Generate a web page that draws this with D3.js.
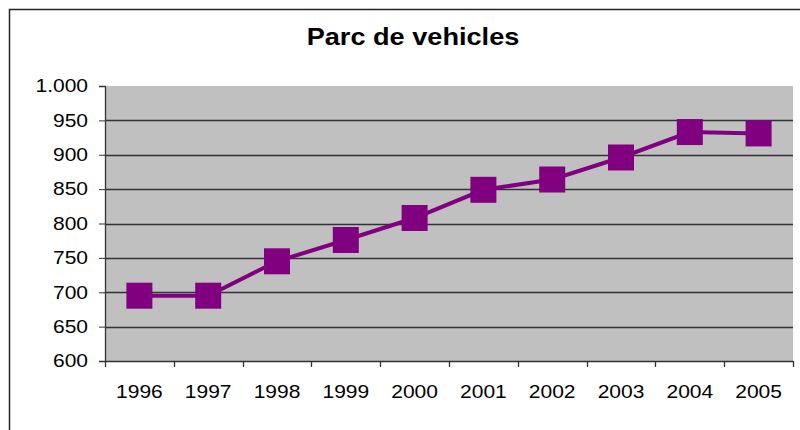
<!DOCTYPE html>
<html><head><meta charset="utf-8">
<script src="https://cdn.jsdelivr.net/npm/d3@7/dist/d3.min.js"></script>
<style>body{margin:0;background:#fff}svg{display:block}</style>
</head><body>
<script>
const years = ["1996","1997","1998","1999","2000","2001","2002","2003","2004","2005"];
const vehicles = [695, 695, 745, 776, 808, 849, 864, 896, 933, 931];
const yTicks = [600, 650, 700, 750, 800, 850, 900, 950, 1000];
const title = "Parc de vehicles";

const W = 800, H = 430;
const svg = d3.select("body").append("svg").attr("width", W).attr("height", H);
const font = "'Liberation Sans', Arial, sans-serif";
const SX = 1.2;

// chart border
svg.append("rect").attr("x", 9.5).attr("y", 9.5).attr("width", 820).attr("height", 440)
  .attr("fill", "#fff").attr("stroke", "#222").attr("stroke-width", 1.5);

const L = 105, R = 793, T = 86, B = 361;
const x = d3.scaleBand().domain(years).range([L, R]);
const y = d3.scaleLinear().domain([600, 1000]).range([B, T]);

svg.append("rect").attr("x", L).attr("y", T).attr("width", R - L).attr("height", B - T).attr("fill", "#c0c0c0");

// gridlines
svg.append("g").selectAll("line").data(yTicks.filter(d => d > 600 && d < 1000)).join("line")
  .attr("x1", L).attr("x2", R).attr("y1", d => Math.round(y(d)) + 0.5).attr("y2", d => Math.round(y(d)) + 0.5)
  .attr("stroke", "#333").attr("stroke-width", 1.3);

// y axis
const fmt = d => d3.format(",")(d).replace(/,/g, ".");
const ya = svg.append("g").attr("transform", `translate(${L},0)`)
  .call(d3.axisLeft(y).tickValues(yTicks).tickFormat(fmt).tickSize(6).tickPadding(10));
ya.select(".domain").attr("stroke", "#333").attr("stroke-width", 1.3);
ya.selectAll(".tick line").attr("stroke", "#333");
ya.selectAll("text").remove();
svg.append("g").selectAll("text").data(yTicks).join("text")
  .attr("transform", d => `translate(88,${y(d)}) scale(${SX},1)`)
  .attr("dy", "0.36em").attr("text-anchor", "end")
  .attr("font-family", font).attr("font-size", 17.5).attr("fill", "#000").text(fmt);

// x axis
const xa = svg.append("g").attr("transform", `translate(0,${B})`)
  .call(d3.axisBottom(x).tickSize(0).tickPadding(22));
xa.select(".domain").attr("stroke", "#333").attr("stroke-width", 1.3);
xa.selectAll("text").remove();
xa.append("g").selectAll("line").data(years.map(d => x(d)).concat([R])).join("line")
  .attr("x1", d => Math.round(d) + 0.5).attr("x2", d => Math.round(d) + 0.5).attr("y1", 0).attr("y2", 6)
  .attr("stroke", "#333").attr("stroke-width", 1.3);
const cx = d => x(d) + x.bandwidth() / 2;
svg.append("g").selectAll("text").data(years).join("text")
  .attr("transform", d => `translate(${cx(d)},398) scale(${SX},1)`)
  .attr("text-anchor", "middle")
  .attr("font-family", font).attr("font-size", 17.5).attr("fill", "#000").text(d => d);

// line
svg.append("path").datum(years.map((d, i) => [cx(d), y(vehicles[i])]))
  .attr("d", d3.line()).attr("fill", "none").attr("stroke", "#800080").attr("stroke-width", 4);

// markers
const S = 26;
svg.append("g").selectAll("rect").data(years).join("rect")
  .attr("x", d => cx(d) - S / 2).attr("y", (d, i) => y(vehicles[i]) - S / 2)
  .attr("width", S).attr("height", S).attr("fill", "#800080");

// title
svg.append("text").attr("transform", `translate(413,45) scale(1.18,1)`).attr("text-anchor", "middle")
  .attr("font-family", font).attr("font-weight", "bold").attr("font-size", 23).text(title);
</script>
</body></html>
